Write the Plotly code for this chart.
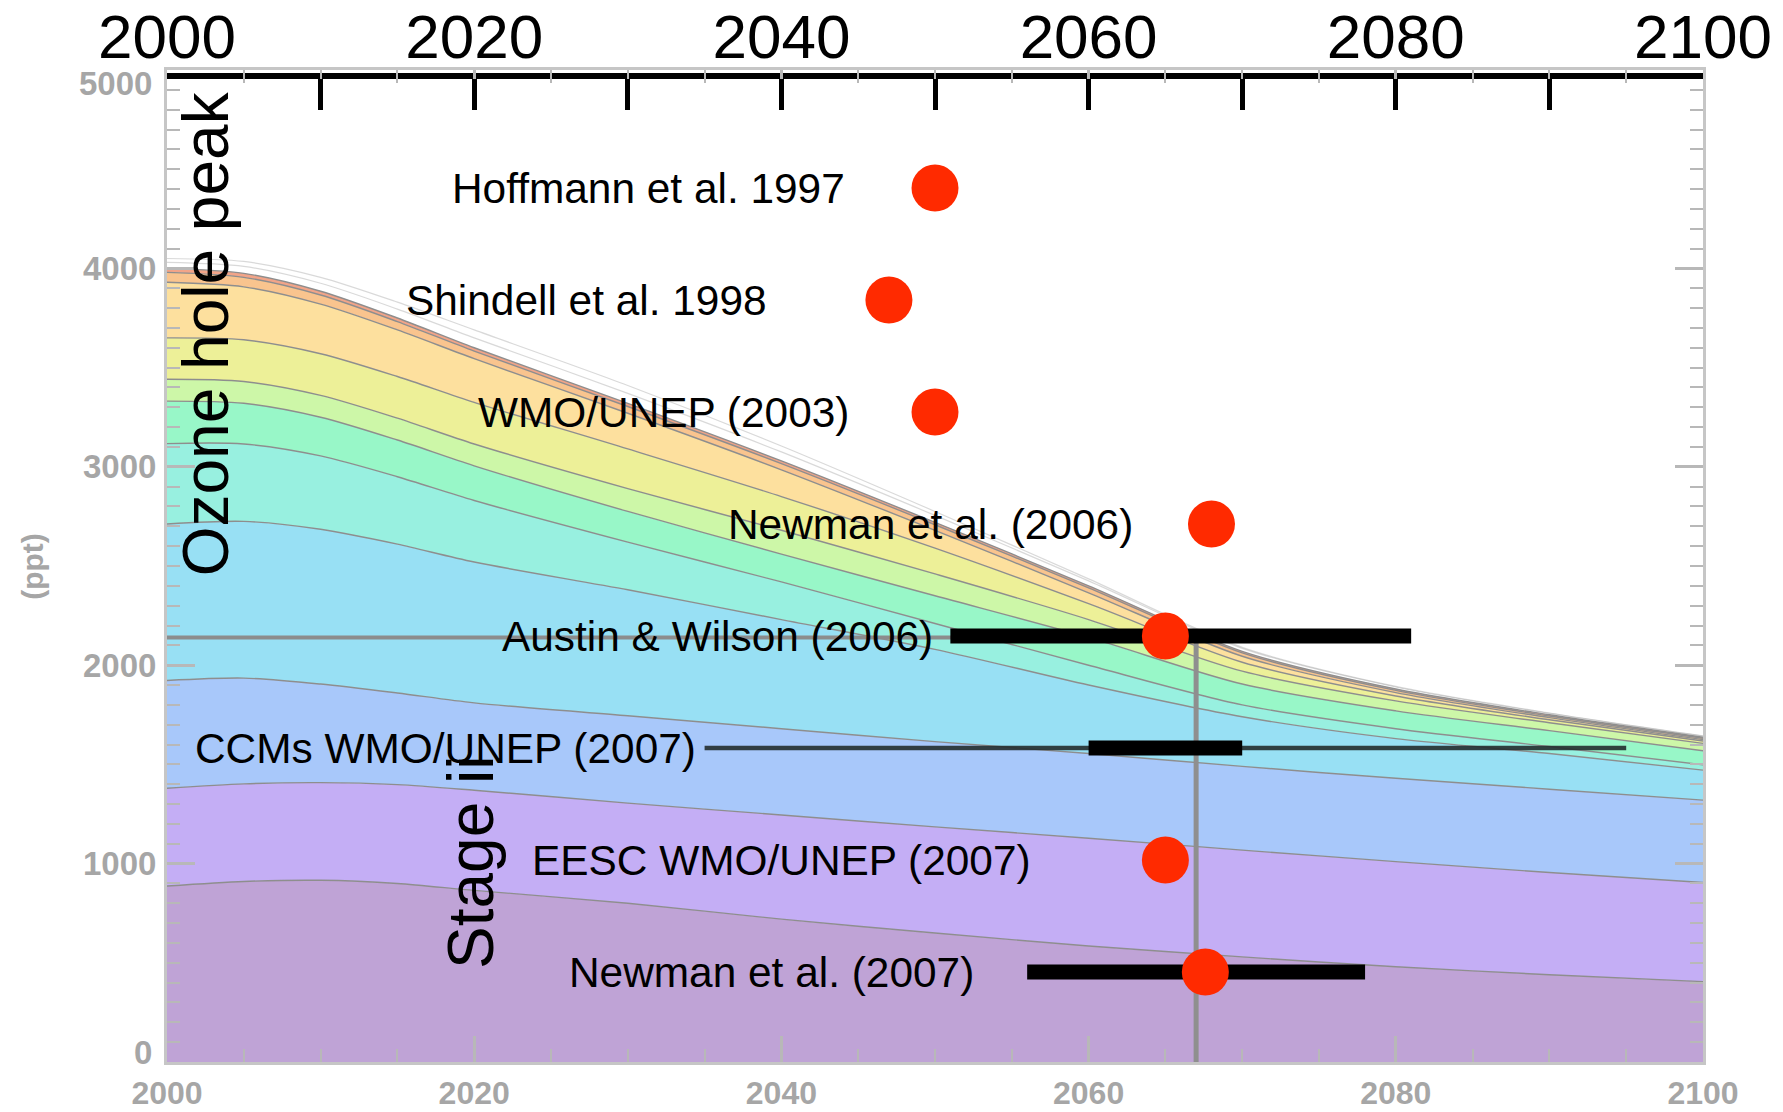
import plotly.graph_objects as go

# ---------------------------------------------------------------------------
# Background: Antarctic EESC (ppt) by contributing band, stacked bottom to top
# ---------------------------------------------------------------------------
years = [2000, 2005, 2010, 2015, 2020, 2030, 2040, 2050, 2060, 2070, 2080, 2090, 2100]

band_mauve    = [887, 910, 916, 900, 865, 800, 720, 650, 585, 530, 480, 440, 405]
band_lavender = [493, 492, 492, 498, 505, 505, 525, 535, 543, 538, 530, 515, 500]
band_blue     = [543, 533, 497, 462, 440, 440, 435, 430, 427, 422, 420, 420, 415]
band_cyan     = [789, 790, 780, 750, 710, 635, 550, 465, 345, 250, 200, 180, 151]
band_aqua     = [405, 390, 370, 340, 310, 240, 190, 130, 100, 60, 50, 35, 27]
band_green    = [214, 205, 195, 185, 175, 155, 140, 140, 140, 105, 90, 80, 71]
band_lime     = [110, 110, 110, 110, 110, 115, 120, 110, 90, 65, 50, 40, 37]
band_yellow   = [209, 210, 210, 210, 210, 200, 170, 130, 80, 45, 25, 15, 12]
band_peach    = [280, 267, 250, 235, 220, 180, 135, 90, 55, 30, 17, 11, 7]
band_orange   = [50, 48, 46, 42, 38, 34, 31, 28, 25, 17, 11, 8, 7]
band_salmon   = [20, 20, 19, 18, 17, 16, 14, 12, 10, 8, 7, 6, 5]

# faint outlines of the scenario spread above the stack
upper_envelope = [4030, 4010, 3925, 3795, 3650, 3370, 3075, 2755, 2425, 2085, 1890, 1757, 1642]
upper_envelope_2 = [4050, 4035, 3955, 3830, 3690, 3410, 3105, 2775, 2435, 2090, 1893, 1759, 1644]

# 1980 EESC level and the year the stack falls back to it
level_1980 = 2140
return_year = 2067

# left (ppt) axis ticks
ppt_ticks = [0, 1000, 2000, 3000, 4000, 5000]

# ---------------------------------------------------------------------------
# Foreground: estimated recovery years from the literature
# ---------------------------------------------------------------------------
studies = [
    "Hoffmann et al. 1997",
    "Shindell et al. 1998",
    "WMO/UNEP (2003)",
    "Newman et al. (2006)",
    "Austin & Wilson (2006)",
    "CCMs WMO/UNEP (2007)",
    "EESC WMO/UNEP (2007)",
    "Newman et al. (2007)",
]
recovery_year = [2050, 2047, 2050, 2068, 2065, None, 2065, 2067.6]
range_low     = [None, None, None, None, 2051, 2060, None, 2056]
range_high    = [None, None, None, None, 2081, 2070, None, 2078]
ccm_full_low, ccm_full_high = 2035, 2095

top_ticks = [2000, 2010, 2020, 2030, 2040, 2050, 2060, 2070, 2080, 2090, 2100]
top_tick_text = [str(t) if t % 20 == 0 else "" for t in top_ticks]

# layout-only: right end of each study label (years) and its row
label_end = [2044.3, 2039.2, 2044.5, 2063.0, 2050.0, 2034.6, 2056.4, 2052.7]
rows = list(range(len(studies), 0, -1))

FONT = "Liberation Sans, Arial, Helvetica, sans-serif"
GRAY_TXT = "#a6a6a6"
GRAY_TICK = "#b8b8b8"
EDGE = "#8e8e8e"

fig = go.Figure()

bands = [
    (band_mauve, "#bfa3d6"),
    (band_lavender, "#c4aef5"),
    (band_blue, "#a8c8fa"),
    (band_cyan, "#98e0f4"),
    (band_aqua, "#98f0e0"),
    (band_green, "#98f7c8"),
    (band_lime, "#cdf7a8"),
    (band_yellow, "#edf098"),
    (band_peach, "#fde09e"),
    (band_orange, "#f9c48e"),
    (band_salmon, "#f2a488"),
]
for vals, col in bands:
    fig.add_trace(go.Scatter(
        x=years, y=vals, stackgroup="eesc", mode="lines",
        line=dict(color=EDGE, width=1.4, shape="spline", smoothing=0.8),
        fillcolor=col, hoverinfo="skip", showlegend=False,
    ))

for env in (upper_envelope, upper_envelope_2):
    fig.add_trace(go.Scatter(
        x=years, y=env, mode="lines",
        line=dict(color="rgba(160,160,160,0.4)", width=1.2, shape="spline", smoothing=0.8),
        hoverinfo="skip", showlegend=False,
    ))

# 1980-level reference lines
fig.add_trace(go.Scatter(
    x=[2000, return_year], y=[level_1980, level_1980], mode="lines",
    line=dict(color="#8c8c8c", width=4), hoverinfo="skip", showlegend=False,
))
fig.add_trace(go.Scatter(
    x=[return_year, return_year], y=[0, level_1980], mode="lines",
    line=dict(color="#8f8f8f", width=5), hoverinfo="skip", showlegend=False,
))

# CCM full spread (thin line)
ccm_row = rows[studies.index("CCMs WMO/UNEP (2007)")]
fig.add_trace(go.Scatter(
    x=[ccm_full_low, ccm_full_high], y=[ccm_row, ccm_row], mode="lines",
    line=dict(color="rgba(35,45,45,0.9)", width=4.5),
    xaxis="x2", yaxis="y2", hoverinfo="skip", showlegend=False,
))

# uncertainty ranges (thick bars)
for lo, hi, r in zip(range_low, range_high, rows):
    if lo is None:
        continue
    fig.add_trace(go.Scatter(
        x=[lo, hi], y=[r, r], mode="lines",
        line=dict(color="black", width=15),
        xaxis="x2", yaxis="y2", hoverinfo="skip", showlegend=False,
    ))

# best-estimate recovery years
mx = [y for y in recovery_year if y is not None]
my = [r for y, r in zip(recovery_year, rows) if y is not None]
fig.add_trace(go.Scatter(
    x=mx, y=my, mode="markers",
    marker=dict(color="#ff2a00", size=47, line=dict(width=0)),
    xaxis="x2", yaxis="y2", hoverinfo="skip", showlegend=False,
))

annotations = []
for name, xe, r in zip(studies, label_end, rows):
    annotations.append(dict(
        x=xe, y=r, xref="x2", yref="y2", text=name, showarrow=False,
        xanchor="right", yanchor="middle",
        font=dict(family=FONT, size=42.4, color="black"),
    ))

# end labels of the ppt axis sit slightly inside the frame
for v, shift in ((ppt_ticks[0], 10), (ppt_ticks[-1], -13)):
    annotations.append(dict(
        x=0, y=v, xref="paper", yref="y", text=str(v), showarrow=False,
        xanchor="right", yanchor="middle", xshift=-13, yshift=shift,
        font=dict(family=FONT, size=33, color=GRAY_TXT, weight="bold"),
    ))

annotations += [
    dict(x=2002.5, y=0.734, xref="x2", yref="paper", text="Ozone hole peak",
         textangle=-90, showarrow=False, xanchor="center", yanchor="middle",
         font=dict(family=FONT, size=64, color="black")),
    dict(x=2019.75, y=0.201, xref="x2", yref="paper", text="Stage ii",
         textangle=-90, showarrow=False, xanchor="center", yanchor="middle",
         font=dict(family=FONT, size=64, color="black")),
    dict(x=-0.088, y=0.50, xref="paper", yref="paper", text="(ppt)",
         textangle=-90, showarrow=False, xanchor="center", yanchor="middle",
         font=dict(family=FONT, size=30, color=GRAY_TXT, weight="bold")),
]

fig.update_layout(
    width=1783, height=1112, autosize=False,
    margin=dict(l=167, r=80, t=70, b=50, autoexpand=False),
    paper_bgcolor="white", plot_bgcolor="white",
    showlegend=False,
    annotations=annotations,
    xaxis=dict(
        range=[2000, 2100], tickmode="linear", tick0=2000, dtick=20,
        ticks="inside", ticklen=26, tickwidth=2.5, tickcolor=GRAY_TICK,
        minor=dict(dtick=5, ticks="inside", ticklen=13, tickwidth=2, tickcolor=GRAY_TICK,
                   showgrid=False),
        showline=True, linecolor="#c6c6c6", linewidth=3, mirror="allticks",
        showgrid=False, zeroline=False, ticklabelstandoff=1, automargin=False,
        tickfont=dict(family=FONT, size=32, color=GRAY_TXT, weight="bold"),
    ),
    yaxis=dict(
        range=[0, 5000], tickmode="array", tickvals=ppt_ticks,
        ticktext=[""] + [str(v) for v in ppt_ticks[1:-1]] + [""],
        ticks="inside", ticklen=28, tickwidth=2.5, tickcolor=GRAY_TICK,
        minor=dict(tickmode="linear", tick0=0, dtick=100, ticks="inside", ticklen=13,
                   tickwidth=2, tickcolor=GRAY_TICK, showgrid=False),
        showline=True, linecolor="#c6c6c6", linewidth=3, mirror="allticks",
        showgrid=False, zeroline=False, ticklabelstandoff=1, automargin=False,
        tickfont=dict(family=FONT, size=33, color=GRAY_TXT, weight="bold"),
    ),
    xaxis2=dict(
        overlaying="x", side="top", anchor="free", position=0.994,
        range=[2000, 2100],
        tickmode="array", tickvals=top_ticks, ticktext=top_tick_text,
        ticks="inside", ticklen=31, tickwidth=5, tickcolor="black",
        showline=True, linecolor="black", linewidth=6,
        showgrid=False, zeroline=False, ticklabelstandoff=-10, automargin=False,
        tickfont=dict(family=FONT, size=62, color="black"),
    ),
    yaxis2=dict(
        overlaying="y", range=[0.197, 9.054], visible=False,
        showgrid=False, zeroline=False, automargin=False,
    ),
)

fig.write_html("out.html")
